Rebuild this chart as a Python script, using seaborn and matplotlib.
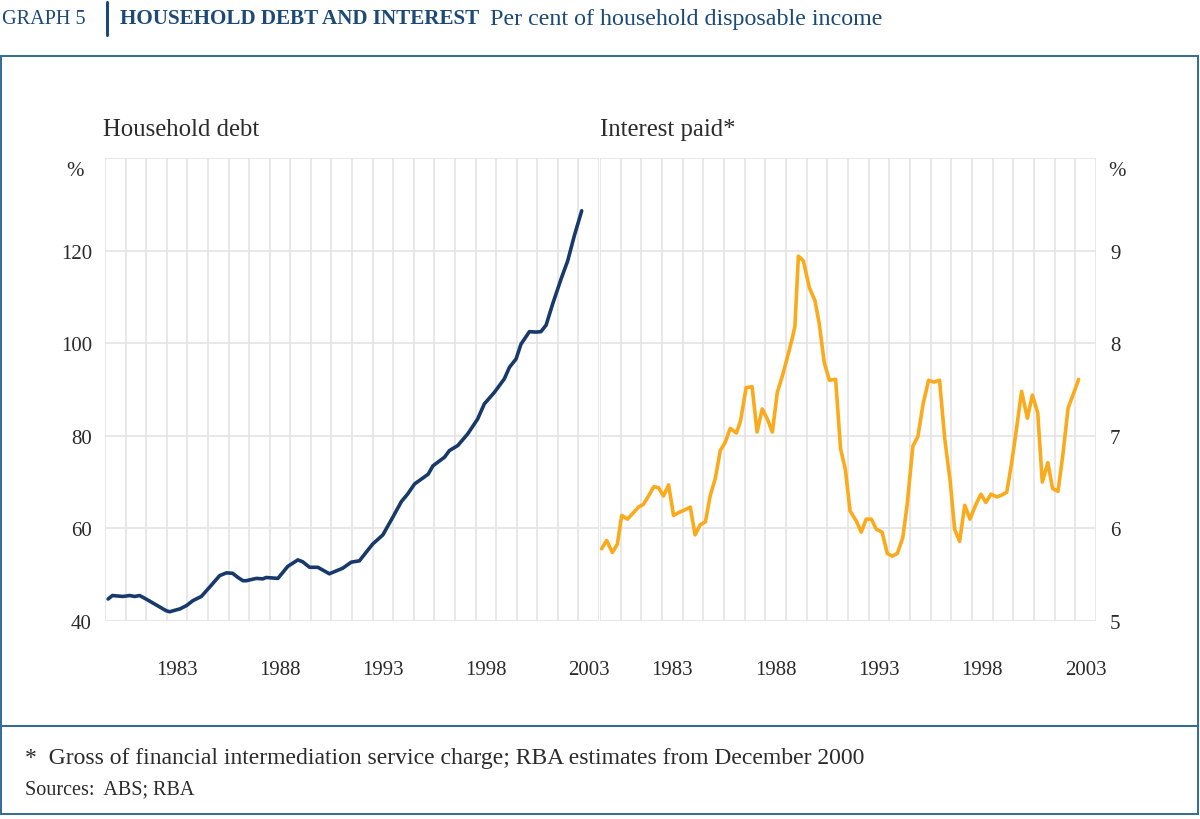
import matplotlib
matplotlib.use("Agg")
import matplotlib.pyplot as plt
import numpy as np
import pandas as pd
import seaborn as sns
from matplotlib.patches import Rectangle
from matplotlib.lines import Line2D

# ---------------- data ----------------
debt_years = [1979.65, 1979.86, 1980.37, 1980.7, 1980.94, 1981.18, 1981.43, 1981.9, 1982.48, 1982.64,
              1983.13, 1983.45, 1983.77, 1984.18, 1984.58, 1985.07, 1985.4, 1985.7, 1985.96, 1986.2,
              1986.36, 1986.85, 1987.17, 1987.33, 1987.9, 1988.38, 1988.87, 1989.1, 1989.44, 1989.84,
              1990.4, 1991.05, 1991.46, 1991.86, 1992.5, 1993.0, 1993.48, 1993.9, 1994.2, 1994.54,
              1995.2, 1995.43, 1996.0, 1996.23, 1996.64, 1997.12, 1997.6, 1997.93, 1998.42, 1998.9,
              1999.15, 1999.47, 1999.71, 2000.12, 2000.44, 2000.68, 2000.93, 2001.25, 2001.66, 2001.98,
              2002.3, 2002.66]
debt_values = [44.75, 45.5, 45.3, 45.5, 45.3, 45.5, 44.9, 43.7, 42.2, 42.0,
               42.6, 43.3, 44.4, 45.3, 47.3, 49.8, 50.4, 50.3, 49.4, 48.7,
               48.7, 49.2, 49.1, 49.4, 49.2, 51.8, 53.2, 52.8, 51.6, 51.6,
               50.2, 51.4, 52.7, 53.0, 56.6, 58.6, 62.4, 65.8, 67.4, 69.6,
               71.7, 73.5, 75.4, 76.8, 77.9, 80.4, 83.6, 86.9, 89.4, 92.3,
               94.8, 96.6, 99.8, 102.5, 102.4, 102.5, 103.9, 108.5, 113.9, 117.8,
               123.2, 128.6]

int_years = [1979.58, 1979.82, 1980.1, 1980.34, 1980.55, 1980.83, 1981.12, 1981.36, 1981.6, 1981.85,
             1982.1, 1982.33, 1982.57, 1982.82, 1983.06, 1983.3, 1983.6, 1983.87, 1984.1, 1984.35,
             1984.6, 1984.83, 1985.08, 1985.32, 1985.56, 1985.8, 1986.1, 1986.3, 1986.57, 1986.86,
             1987.1, 1987.35, 1987.6, 1987.84, 1988.08, 1988.33, 1988.57, 1988.81, 1988.93, 1989.1,
             1989.34, 1989.63, 1989.9, 1990.11, 1990.35, 1990.6, 1990.9, 1991.14, 1991.37, 1991.6,
             1991.9, 1992.14, 1992.38, 1992.63, 1992.87, 1993.15, 1993.4, 1993.64, 1993.89, 1994.15,
             1994.36, 1994.64, 1994.88, 1995.13, 1995.4, 1995.66, 1995.93, 1996.18, 1996.45, 1996.66,
             1996.9, 1997.15, 1997.4, 1997.67, 1997.93, 1998.17, 1998.42, 1998.7, 1998.94, 1999.18,
             1999.4, 1999.65, 1999.9, 2000.18, 2000.42, 2000.68, 2000.9, 2001.17, 2001.4, 2001.66,
             2001.9, 2002.15, 2002.42, 2002.66]
int_values = [5.78, 5.87, 5.74, 5.83, 6.14, 6.10, 6.17, 6.23, 6.26, 6.35,
              6.45, 6.44, 6.35, 6.47, 6.14, 6.17, 6.20, 6.23, 5.93, 6.04,
              6.07, 6.35, 6.54, 6.84, 6.93, 7.08, 7.03, 7.16, 7.52, 7.53,
              7.04, 7.29, 7.18, 7.04, 7.47, 7.65, 7.85, 8.06, 8.18, 8.94,
              8.89, 8.60, 8.46, 8.21, 7.79, 7.60, 7.61, 6.86, 6.64, 6.19,
              6.08, 5.96, 6.10, 6.10, 5.99, 5.96, 5.73, 5.70, 5.73, 5.90,
              6.25, 6.89, 6.99, 7.34, 7.60, 7.58, 7.60, 6.97, 6.50, 5.99,
              5.86, 6.25, 6.10, 6.25, 6.37, 6.28, 6.37, 6.34, 6.36, 6.39,
              6.68, 7.07, 7.48, 7.19, 7.44, 7.25, 6.50, 6.71, 6.43, 6.40,
              6.80, 7.30, 7.46, 7.61]

year_labels = [1983, 1988, 1993, 1998, 2003]
left_ticks = [40, 60, 80, 100, 120, 140]
right_ticks = [5, 6, 7, 8, 9, 10]

# ---------------- style ----------------
sns.set_theme(style="white")
plt.rcParams['font.family'] = ['Liberation Serif', 'DejaVu Serif']

NAVY = "#173a6b"
ORANGE = "#fbaa1c"
GRID = "#e4e4e4"
TEXT = "#2b2b2b"
TITLE = "#1b4a78"
FRAME = "#2f6c96"

W, H = 1200, 820
fig = plt.figure(figsize=(12, 8.2), dpi=100)

def fx(px):
    return px / W

def fy(py):
    return 1 - py / H

x0, x1 = 1979.5, 2003.5
ax_l = fig.add_axes([fx(105), fy(622), fx(599 - 105), (622 - 159) / H])
ax_r = fig.add_axes([fx(600), fy(622), fx(1096 - 600), (622 - 159) / H])

df_debt = pd.DataFrame({"year": debt_years, "value": debt_values})
df_int = pd.DataFrame({"year": int_years, "value": int_values})

sns.lineplot(data=df_debt, x="year", y="value", ax=ax_l, color=NAVY, linewidth=2.6,
             sort=False, estimator=None, zorder=3)
sns.lineplot(data=df_int, x="year", y="value", ax=ax_r, color=ORANGE, linewidth=2.6,
             sort=False, estimator=None, zorder=3)

half_years = np.arange(x0, x1 + 0.01, 1.0)
for ax, ticks, lo, hi in [(ax_l, left_ticks, 40, 140), (ax_r, right_ticks, 5, 10)]:
    ax.set_xlim(x0, x1)
    ax.set_ylim(lo, hi)
    ax.set_xlabel("")
    ax.set_ylabel("")
    ax.set_xticks(year_labels)
    ax.set_xticklabels([str(y) for y in year_labels])
    ax.set_xticks(half_years, minor=True)
    ax.set_yticks(ticks)
    ax.set_yticklabels([str(t) for t in ticks[:-1]] + [""])
    ax.grid(False)
    ax.grid(which="minor", axis="x", color=GRID, linewidth=1.2, zorder=0)
    ax.grid(which="major", axis="y", color=GRID, linewidth=1.2, zorder=0)
    ax.tick_params(which="both", length=0)
    ax.tick_params(axis="x", pad=28, labelsize=15, labelcolor=TEXT)
    ax.tick_params(axis="y", pad=9.5, labelsize=15, labelcolor=TEXT)
    for s in ax.spines.values():
        s.set_visible(False)
    ax.set_facecolor("white")
    ax.patch.set_alpha(0)

ax_r.yaxis.tick_right()
ax_r.tick_params(axis="y", which="both", length=0, pad=10)

# "%" unit labels
fig.text(fx(75), fy(172), "%", ha="center", va="center", fontsize=15, color=TEXT)
fig.text(fx(1117), fy(172), "%", ha="center", va="center", fontsize=15, color=TEXT)

# panel titles
fig.text(fx(103), fy(130), "Household debt", ha="left", va="center", fontsize=17.8, color=TEXT)
fig.text(fx(600), fy(130), "Interest paid*", ha="left", va="center", fontsize=17.8, color=TEXT)

# frames
fig.add_artist(Rectangle((fx(1), fy(727)), fx(1197), (727 - 57) / H, transform=fig.transFigure,
                         fill=False, edgecolor=FRAME, linewidth=1.4))
fig.add_artist(Rectangle((fx(1), fy(815)), fx(1197), (815 - 727) / H, transform=fig.transFigure,
                         fill=False, edgecolor=FRAME, linewidth=1.4))

# title line
fig.canvas.draw()
renderer = fig.canvas.get_renderer()
t1 = fig.text(fx(2), fy(19), "GRAPH 5", ha="left", va="center", fontsize=14.6, color=TITLE)
fig.add_artist(Line2D([fx(107), fx(107)], [fy(3), fy(36)], transform=fig.transFigure,
                      color=TITLE, linewidth=2.2))
t2 = fig.text(fx(120), fy(19), "HOUSEHOLD DEBT AND INTEREST", ha="left", va="center",
              fontsize=15.2, fontweight="bold", color=TITLE)
bb = t2.get_window_extent(renderer=renderer)
t3 = fig.text((bb.x1 + 11) / W, fy(19), "Per cent of household disposable income", ha="left",
              va="center", fontsize=17.3, color=TITLE)

# footnotes
fig.text(fx(25), fy(759), "*  Gross of financial intermediation service charge; RBA estimates from December 2000",
         ha="left", va="center", fontsize=17, color=TEXT)
fig.text(fx(25), fy(790), "Sources:  ABS; RBA", ha="left", va="center", fontsize=14.5, color=TEXT)

fig.savefig("out.png", dpi=100, facecolor="white")
